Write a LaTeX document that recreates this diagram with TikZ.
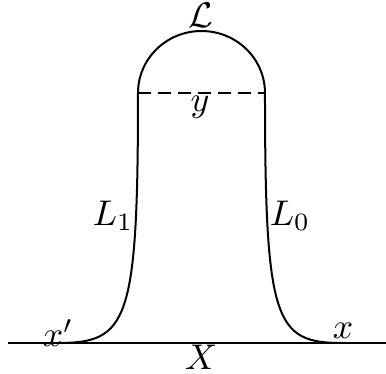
\documentclass[tikz,border=0pt]{standalone}
\begin{document}
\begin{tikzpicture}[x=0.28pt,y=-0.28pt,
  curve/.style={line width=0.56pt},
  lbl/.style={inner sep=0pt}]
\useasboundingbox (0,0) rectangle (386,374);
\coordinate (bl) at (8,343);
\coordinate (br) at (386,343);
\coordinate (xp) at (58,343);
\coordinate (xr) at (342,343);
\coordinate (tl) at (138,93);
\coordinate (tr) at (265,93);
\draw[curve] (bl) -- (br);
\draw[curve] (xp) .. controls (128,343) and (138,322) .. (tl)
  arc[start angle=180,end angle=360,x radius=63.5,y radius=62] .. controls (265,322) and (275,343) .. (xr);
\draw[curve,dash pattern=on 3.6pt off 2pt] (tl) -- (tr);
\node[lbl] (L) at (201,15) {$\mathcal{L}$};
\node[lbl] (y) at (200,107) {$y$};
\node[lbl] (L1) at (113,216) {$L_1$};
\node[lbl] (L0) at (290,216) {$L_0$};
\node[lbl] (xprime) at (58,333) {$x'$};
\node[lbl] (x) at (343,331) {$x$};
\node[lbl] (X) at (201,357) {$X$};
\end{tikzpicture}
\end{document}
